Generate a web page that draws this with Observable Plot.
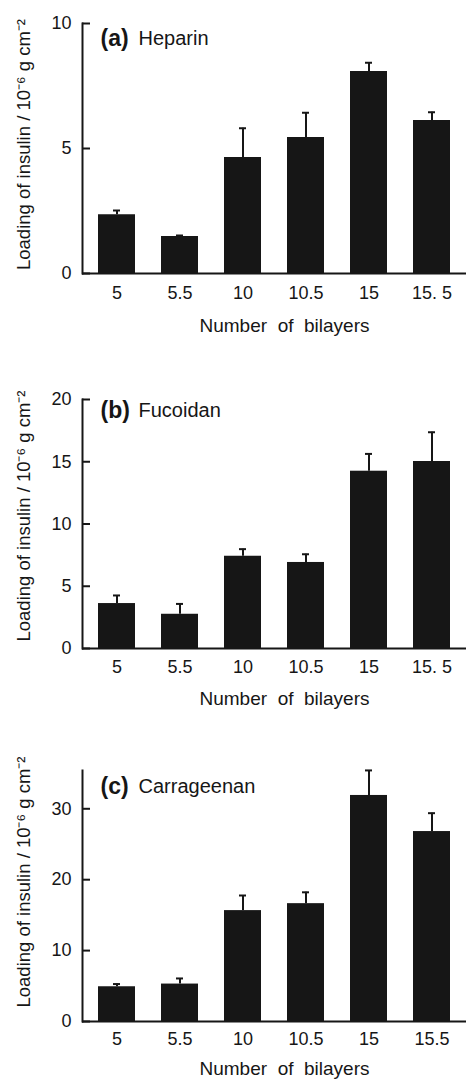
<!DOCTYPE html>
<html><head><meta charset="utf-8">
<script src="https://cdn.jsdelivr.net/npm/d3@7"></script>
<script src="https://cdn.jsdelivr.net/npm/@observablehq/plot@0.6"></script>
<style>
body{margin:0;background:#fff;}
#chart svg{display:block;}
</style></head><body><div id="chart"></div>
<script>
// ---- data ----
const bilayers = ["5", "5.5", "10", "10.5", "15", "15.5"];
const tickLabelsAB = ["5", "5.5", "10", "10.5", "15", "15. 5"];
const tickLabelsC = ["5", "5.5", "10", "10.5", "15", "15.5"];
const heparinMean = [2.35, 1.48, 4.64, 5.44, 8.08, 6.12];
const heparinErr = [0.17, 0.04, 1.17, 0.99, 0.35, 0.33];
const fucoidanMean = [3.61, 2.75, 7.41, 6.91, 14.24, 15.02];
const fucoidanErr = [0.65, 0.83, 0.57, 0.66, 1.39, 2.35];
const carrageenanMean = [4.90, 5.28, 15.64, 16.62, 31.88, 26.79];
const carrageenanErr = [0.38, 0.79, 2.13, 1.60, 3.53, 2.59];
const panelLetters = ["(a)", "(b)", "(c)"];
const panelNames = ["Heparin", "Fucoidan", "Carrageenan"];
const yTicksA = [0, 5, 10];
const yTicksB = [0, 5, 10, 15, 20];
const yTicksC = [0, 10, 20, 30];
const yMaxes = [10, 20, 35.4];
const yLabel = "Loading of insulin / 10\u207B\u2076 g cm\u207B\u00B2";
const xLabel = "Number\u00A0 of\u00A0 bilayers";

// ---- layout (not data) ----
const layouts = [
  {height: 333, marginTop: 23, titleDy: 15.5, tickPad: 13, xLabelDy: 52, yLabelDy: -4},
  {height: 375, marginTop: 66, titleDy: 11.5, tickPad: 12, xLabelDy: 50, yLabelDy: -8},
  {height: 373, marginTop: 62, titleDy: 16.5, tickPad: 11, xLabelDy: 47, yLabelDy: -14}
];
const ink = "#161616";
const font = "'Liberation Sans', Arial, Helvetica, sans-serif";

function panel(i, mean, err, ticks, labels) {
  const L = layouts[i];
  const data = bilayers.map((b, j) => ({b, v: mean[j], top: mean[j] + err[j]}));
  const labelMap = new Map(bilayers.map((b, j) => [b, labels[j]]));
  return Plot.plot({
    width: 466, height: L.height,
    marginTop: L.marginTop, marginBottom: 60, marginLeft: 82, marginRight: 0,
    style: {fontFamily: font, fontSize: "18px", color: ink, background: "white", overflow: "visible"},
    x: {domain: bilayers, paddingInner: 0.42, paddingOuter: 0.22, align: 0.5},
    y: {domain: [0, yMaxes[i]]},
    marks: [
      Plot.ruleX(data, {x: "b", y1: "v", y2: "top", stroke: ink, strokeWidth: 2}),
      Plot.tickY(data, {x: "b", y: "top", stroke: ink, strokeWidth: 2, insetLeft: 15, insetRight: 15}),
      Plot.barY(data, {x: "b", y: "v", fill: ink}),
      Plot.axisX({tickSize: 0, tickPadding: L.tickPad, tickFormat: d => labelMap.get(d), label: null, fontSize: 18}),
      Plot.axisY({ticks, tickSize: -8, tickPadding: 19, strokeWidth: 2, label: null, fontSize: 18}),
      Plot.frame({anchor: "left", stroke: ink, strokeWidth: 2}),
      Plot.ruleY([0], {stroke: ink, strokeWidth: 2}),
      Plot.text([panelLetters[i]], {frameAnchor: "top-left", dx: 18, dy: L.titleDy, textAnchor: "start", lineAnchor: "middle", fontWeight: "bold", fontSize: 23, fill: ink}),
      Plot.text([panelNames[i]], {frameAnchor: "top-left", dx: 56, dy: L.titleDy, textAnchor: "start", lineAnchor: "middle", fontSize: 20, fill: ink}),
      Plot.text([xLabel], {frameAnchor: "bottom", dx: 10, dy: L.xLabelDy, textAnchor: "middle", lineAnchor: "middle", fontSize: 19, fill: ink}),
      Plot.text([yLabel], {frameAnchor: "left", rotate: -90, dx: -58, dy: L.yLabelDy, textAnchor: "middle", lineAnchor: "middle", fontSize: 18.5, fill: ink})
    ]
  });
}

const chart = document.getElementById("chart");
chart.append(panel(0, heparinMean, heparinErr, yTicksA, tickLabelsAB));
chart.append(panel(1, fucoidanMean, fucoidanErr, yTicksB, tickLabelsAB));
chart.append(panel(2, carrageenanMean, carrageenanErr, yTicksC, tickLabelsC));
</script></body></html>
